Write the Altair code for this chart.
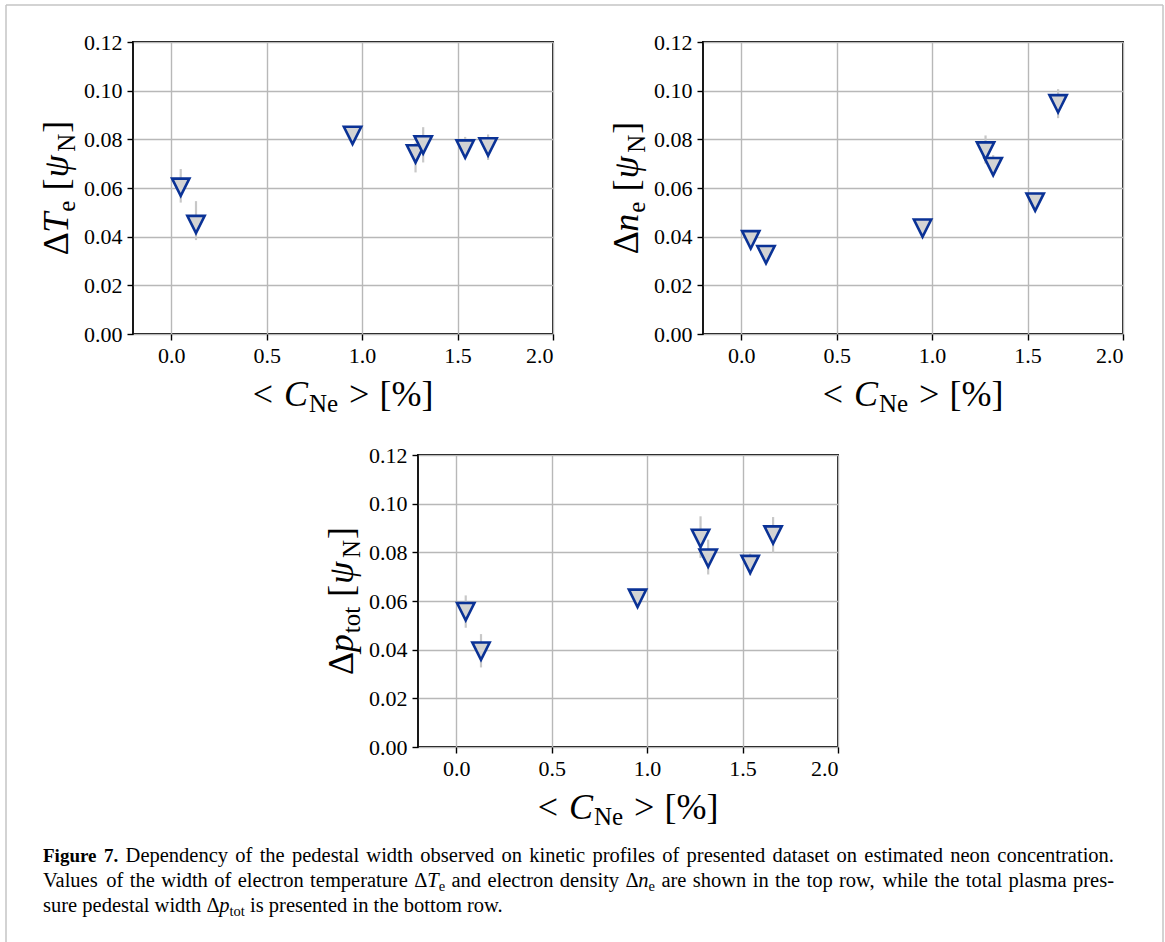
import altair as alt
import pandas as pd

# ---------------- data ----------------
ne_conc = [0.05, 0.13, 0.95, 1.28, 1.32, 1.54, 1.66]

te_width = [0.0603, 0.0450, 0.0816, 0.0740, 0.0777, 0.0760, 0.0769]
te_lo = [0.0540, 0.0386, 0.0805, 0.0664, 0.0705, 0.0725, 0.0715]
te_hi = [0.0678, 0.0546, 0.0828, 0.0786, 0.0850, 0.0810, 0.0820]

ne_width = [0.0387, 0.0326, 0.0435, 0.0752, 0.0688, 0.0542, 0.0946]
ne_lo = [0.0375, 0.0315, 0.0425, 0.0700, 0.0655, 0.0532, 0.0887]
ne_hi = [0.0400, 0.0338, 0.0447, 0.0816, 0.0735, 0.0553, 0.1006]

p_width = [0.0556, 0.0394, 0.0611, 0.0857, 0.0776, 0.0750, 0.0871]
p_lo = [0.0490, 0.0327, 0.0600, 0.0777, 0.0709, 0.0705, 0.0798]
p_hi = [0.0623, 0.0464, 0.0625, 0.0948, 0.0852, 0.0795, 0.0945]

x_ticks = [0.0, 0.5, 1.0, 1.5, 2.0]
y_ticks = [0.00, 0.02, 0.04, 0.06, 0.08, 0.10, 0.12]

caption_bold = "Figure 7."
caption_l1 = "Dependency of the pedestal width observed on kinetic profiles of presented dataset on estimated neon concentration."
caption_l2a = "Values of the width of electron temperature"
caption_l2b = "and electron density"
caption_l2c = "are shown in the top row, while the total plasma pres-"
caption_l3a = "sure pedestal width"
caption_l3b = "is presented in the bottom row."

# ---------------- styling ----------------
W, H = 420, 292
FONT = "Liberation Serif"
TRI = "M-1,-1L1,-1L0,1Z"
EDGE = "#0a3296"
FILL = "#d3d3d3"
BAR = "#c8c8c8"

one = pd.DataFrame({"a": [0]})

# Times-compatible advance widths (1/1000 em) for Liberation Serif
_R = dict(zip(" !,-.%[]<>:;0123456789",
              [250, 333, 250, 333, 250, 833, 333, 333, 564, 564, 278, 278] + [500] * 10))
_R.update(dict(zip("ABCDEFGHIJKLMNOPQRSTUVWXYZ",
                   [722, 667, 667, 722, 611, 556, 722, 722, 333, 389, 722, 611, 889,
                    722, 722, 556, 722, 667, 556, 611, 722, 722, 944, 722, 722, 611])))
_R.update(dict(zip("abcdefghijklmnopqrstuvwxyz",
                   [444, 500, 444, 500, 444, 333, 500, 500, 278, 278, 500, 278, 778,
                    500, 500, 500, 500, 333, 389, 278, 500, 500, 722, 500, 500, 444])))
_R["Δ"] = 630
_B = dict(_R)
_B.update({"F": 611, "i": 278, "g": 500, "u": 556, "r": 444, "e": 444, "7": 500, ".": 250})
_I = dict(_R)
_I.update({"T": 556, "n": 500, "p": 500, "C": 667, "ψ": 690})


def pw(t, st, fs, weight="normal"):
    tab = _I if st == "italic" else (_B if weight == "bold" else _R)
    return sum(tab.get(c, 500) for c in t) / 1000.0 * fs


def tmark(t, st, fs, x, y, angle=0, weight="normal"):
    return alt.Chart(one).mark_text(
        text=t, font=FONT, fontSize=fs, fontStyle=st, fontWeight=weight,
        align="left", baseline="alphabetic", angle=angle, color="black",
    ).encode(x=alt.value(x), y=alt.value(y))


def hpieces(pieces, cx, by):
    total = sum(pw(t, st, fs) + g for t, st, fs, dy, g in pieces)
    x = cx - total / 2
    out = []
    for t, st, fs, dy, g in pieces:
        out.append(tmark(t, st, fs, x, by + dy))
        x += pw(t, st, fs) + g
    return out


def vpieces(pieces, bx, cy):
    total = sum(pw(t, st, fs) + g for t, st, fs, dy, g in pieces)
    y = cy + total / 2
    out = []
    for t, st, fs, dy, g in pieces:
        out.append(tmark(t, st, fs, bx + dy, y, angle=270))
        y -= pw(t, st, fs) + g
    return out


MS, SS = 36, 25
xtitle = [("<", "normal", MS, 0, 11), ("C", "italic", MS, 0, 1),
          ("Ne", "normal", SS, 6, 11), (">", "normal", MS, 0, 10),
          ("[%]", "normal", MS, 0, 0)]


def ytitle(sym, sub):
    return [("Δ", "normal", MS, 0, 0), (sym, "italic", MS, 0, 1),
            (sub, "normal", SS, 7, 10), ("[", "normal", MS, 0, 1),
            ("ψ", "italic", MS, 0, 1), ("N", "normal", SS, 7, 1),
            ("]", "normal", MS, 0, 0)]


def panel(yv, lo, hi, sym, sub, extra=None):
    df = pd.DataFrame({"x": ne_conc, "y": yv, "lo": lo, "hi": hi})
    xsc = alt.Scale(domain=[-0.2, 2.0], nice=False, zero=False)
    ysc = alt.Scale(domain=[0, 0.12], nice=False)
    xax = alt.Axis(values=x_ticks, format=".1f", title=None)
    yax = alt.Axis(values=y_ticks, format=".2f", title=None)
    base = alt.Chart(df)
    bars = base.mark_rule(color=BAR, strokeWidth=2.2).encode(
        x=alt.X("x:Q", scale=xsc, axis=xax),
        y=alt.Y("lo:Q", scale=ysc, axis=yax),
        y2="hi:Q",
    )
    pts = base.mark_point(
        shape=TRI, size=300, filled=True, fill=FILL, stroke=EDGE,
        strokeWidth=2.6, opacity=1,
    ).encode(
        x=alt.X("x:Q", scale=xsc, axis=xax),
        y=alt.Y("y:Q", scale=ysc, axis=yax),
    )
    layers = [bars, pts]
    layers += hpieces(xtitle, W / 2, H + 72)
    layers += vpieces(ytitle(sym, sub), -65, H / 2)
    if extra:
        layers += extra
    return alt.layer(*layers).properties(width=W, height=H)


# ---------------- caption (justified lines) and figure frame ----------------
OX, OY = 417, 454          # absolute position of the bottom panel's plot origin
CF, CS, CB = 20.5, 14.5, 19  # caption font size, subscript size, bold label size
LEFT, RIGHT = 42, 1113


def word(t, weight="normal"):
    return [(t, "normal", CB if weight == "bold" else CF, 0, weight)]


def math(sym, sub):
    return [("Δ", "normal", CF, 0, "normal"), (sym, "italic", CF, 0, "normal"),
            (sub, "normal", CS, 4, "normal")]


def wwidth(w):
    return sum(pw(t, st, fs, wt) for t, st, fs, dy, wt in w)


def line_marks(words, base_abs, justify):
    widths = [wwidth(w) for w in words]
    if justify and len(words) > 1:
        gap = (RIGHT - LEFT - sum(widths)) / (len(words) - 1)
    else:
        gap = 0.25 * CF
    x = LEFT
    out = []
    for w, wd in zip(words, widths):
        xx = x
        for t, st, fs, dy, wt in w:
            out.append(tmark(t, st, fs, xx - OX, base_abs + dy - OY, weight=wt))
            xx += pw(t, st, fs, wt)
        x += wd + gap
    return out


l1 = [word(w, "bold") for w in caption_bold.split()] + [word(w) for w in caption_l1.split()]
l2 = ([word(w) for w in caption_l2a.split()] + [math("T", "e")]
      + [word(w) for w in caption_l2b.split()] + [math("n", "e")]
      + [word(w) for w in caption_l2c.split()])
l3 = [word(w) for w in caption_l3a.split()] + [math("p", "tot")] + [word(w) for w in caption_l3b.split()]

cap = []
cap += line_marks(l1, 861, True)
cap += line_marks(l2, 886, True)
cap += line_marks(l3, 911, False)

frame_c = "#c4c4c4"
cap.append(alt.Chart(one).mark_rule(color=frame_c, strokeWidth=1.5).encode(
    x=alt.value(5 - OX), y=alt.value(4 - OY), y2=alt.value(941 - OY)))
cap.append(alt.Chart(one).mark_rule(color=frame_c, strokeWidth=1.5).encode(
    x=alt.value(5 - OX), x2=alt.value(1162 - OX), y=alt.value(4 - OY)))
cap.append(alt.Chart(one).mark_rule(color=frame_c, strokeWidth=1.5).encode(
    x=alt.value(1162 - OX), y=alt.value(4 - OY), y2=alt.value(941 - OY)))

p_te = panel(te_width, te_lo, te_hi, "T", "e")
p_ne = panel(ne_width, ne_lo, ne_hi, "n", "e")
p_p = panel(p_width, p_lo, p_hi, "p", "tot", extra=cap)

spacer = alt.Chart(one).mark_point(opacity=0).encode(
    x=alt.value(0), y=alt.value(0)
).properties(width=135, height=H, view=alt.ViewBackground(stroke="transparent"))

top = alt.hconcat(p_te, p_ne, spacing=150, bounds="flush")
bottom = alt.hconcat(spacer, p_p, spacing=150, bounds="flush")

# with flush bounds the nested top row counts with zero height, so the row
# spacing equals the full offset between the two rows' plot tops
chart = alt.vconcat(top, bottom, spacing=H + 121, bounds="flush").properties(
    padding={"left": 4, "top": 3, "right": 0, "bottom": 0},
    background="white",
).configure_view(
    stroke="black", strokeWidth=1.8
).configure_axis(
    grid=True, gridColor="#b8b8b8", gridWidth=1.4, domain=False,
    tickColor="black", tickSize=6, tickWidth=1.4,
    labelFont=FONT, labelFontSize=22, labelColor="black", labelPadding=5,
)

chart.save("out.html", embed_options={"renderer": "svg", "actions": False})
